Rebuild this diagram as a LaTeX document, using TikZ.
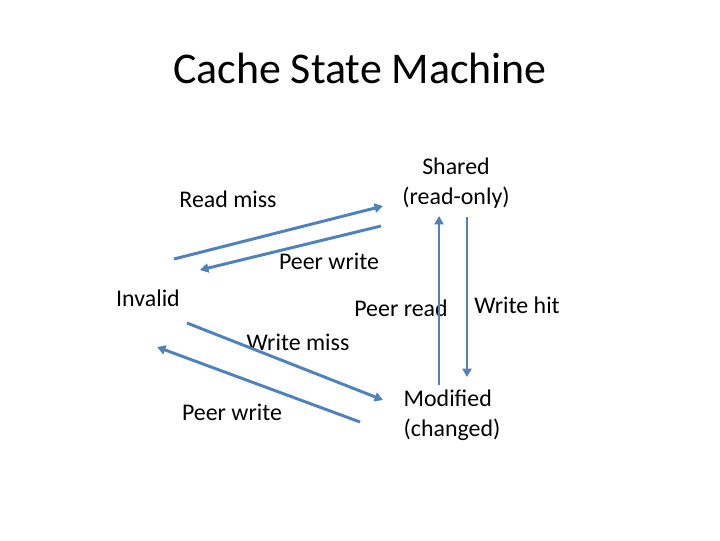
\documentclass[tikz,border=0pt]{standalone}
\usepackage{fontspec}
\setmainfont{Carlito}
\usetikzlibrary{arrows.meta}
\definecolor{edge}{HTML}{4F81BD}

\begin{document}
\begin{tikzpicture}[
    x=0.025cm, y=-0.025cm,
    >={Triangle[length=6pt, width=6.5pt]},
    title/.style={font=\fontsize{31.2}{36}\selectfont, inner sep=0pt},
    lbl/.style={font=\fontsize{17}{21.2}\selectfont, inner sep=0pt, align=center},
    trans/.style={->, edge, line width=2.1pt},
]

\useasboundingbox (0,0) rectangle (720,540);

\node[title] (head) at (360,68) {Cache State Machine};

% states
\node[lbl] (shared) at (456,183) {Shared\\(read-only)};
\node[lbl] (invalid) at (148,298) {Invalid};
\node[lbl, align=left] (modified) at (452,415) {Modified\\(changed)};

% transition labels
\node[lbl] (rdmiss) at (228,199) {Read miss};
\node[lbl] (pwtop) at (329,261) {Peer write};
\node[lbl] (pread) at (401,308) {Peer read};
\node[lbl] (whit) at (517,305) {Write hit};
\node[lbl] (wrmiss) at (298,342) {Write miss};
\node[lbl] (pwbot) at (232,412) {Peer write};

% arrow ends
\coordinate (i1) at (174,259);
\coordinate (s1) at (383,206);
\coordinate (s2) at (381,226);
\coordinate (i2) at (200,270);
\coordinate (i3) at (187,323);
\coordinate (m3) at (383,400);
\coordinate (m4) at (360,422);
\coordinate (i4) at (157,347);
\coordinate (mu) at (439,385);
\coordinate (su) at (439,216);
\coordinate (sd) at (467,217);
\coordinate (md) at (467,377);

% transitions
\draw[trans] (i1) -- (s1);
\draw[trans] (s2) -- (i2);
\draw[trans] (i3) -- (m3);
\draw[trans] (m4) -- (i4);
\draw[trans] (mu) -- (su);
\draw[trans] (sd) -- (md);

\end{tikzpicture}
\end{document}
